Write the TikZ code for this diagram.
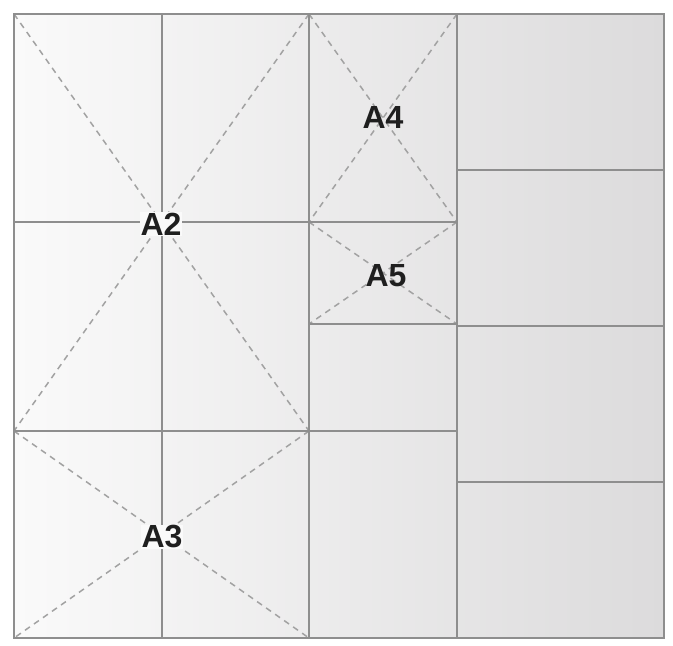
\documentclass[tikz,border=0pt]{standalone}
\usepackage{fontspec}
\setmainfont{Liberation Sans}
\definecolor{gridline}{HTML}{8E8E8E}
\definecolor{dashline}{HTML}{A2A2A2}
\definecolor{bgleft}{HTML}{FAFAFA}
\definecolor{bgmid}{HTML}{EFEFEF}
\definecolor{bgright}{HTML}{DCDBDC}
\begin{document}
\begin{tikzpicture}[x=1pt,y=-1pt,
  solidline/.style={draw=gridline,line width=1.6pt},
  dashline/.style={draw=dashline,line width=1.5pt,dash pattern=on 6pt off 5pt},
  paperlabel/.style={font=\bfseries\fontsize{32}{32}\selectfont,text=black!88,inner sep=1pt,fill=bgleft}]
\useasboundingbox (0,0) rectangle (673,646);
\fill[white] (0,0) rectangle (673,646);
% named corners
\coordinate (TL) at (14,14);
\coordinate (BR) at (664,638);
\shade[left color=bgleft,middle color=bgmid,right color=bgright] (TL) rectangle (BR);
% dashed diagonals
\coordinate (a2tl) at (14,14);  \coordinate (a2tr) at (309,14);
\coordinate (a2bl) at (14,431); \coordinate (a2br) at (309,431);
\coordinate (a3bl) at (14,638); \coordinate (a3br) at (309,638);
\coordinate (a4tl) at (309,14); \coordinate (a4tr) at (457,14);
\coordinate (a4bl) at (309,222);\coordinate (a4br) at (457,222);
\coordinate (a5bl) at (309,324);\coordinate (a5br) at (457,324);
\draw[dashline] (a2tl) -- (a2br) (a2tr) -- (a2bl);
\draw[dashline] (a2bl) -- (a3br) (a2br) -- (a3bl);
\draw[dashline] (a4tl) -- (a4br) (a4tr) -- (a4bl);
\draw[dashline] (a4bl) -- (a5br) (a4br) -- (a5bl);
% solid grid
\draw[solidline] (162,14) -- (162,638);
\draw[solidline] (309,14) -- (309,638);
\draw[solidline] (457,14) -- (457,638);
\draw[solidline] (14,222) -- (457,222);
\draw[solidline] (14,431) -- (457,431);
\draw[solidline] (309,324) -- (457,324);
\draw[solidline] (457,170) -- (664,170);
\draw[solidline] (457,326) -- (664,326);
\draw[solidline] (457,482) -- (664,482);
\draw[solidline] (TL) rectangle (BR);
% labels
\node[paperlabel] (A2) at (161,224) {A2};
\node[paperlabel] (A3) at (162,537) {A3};
\node[paperlabel,fill=none] (A4) at (383,117) {A4};
\node[paperlabel,fill=none] (A5) at (386,276) {A5};
\end{tikzpicture}
\end{document}
